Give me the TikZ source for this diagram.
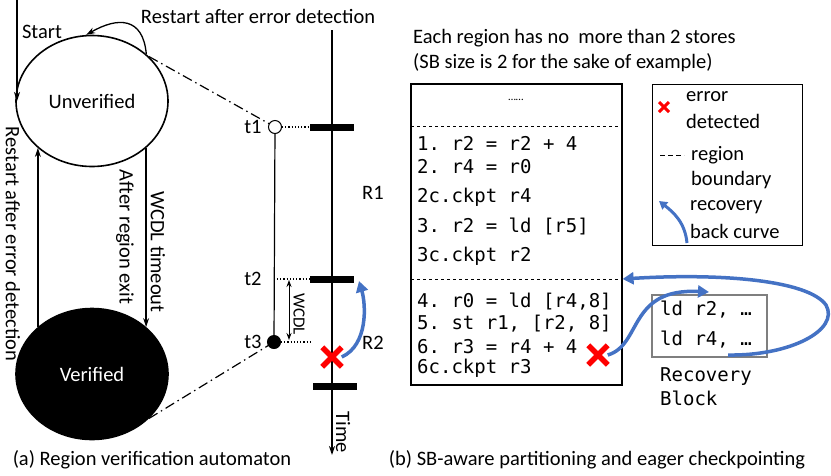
\documentclass[tikz,border=0pt]{standalone}
\usepackage{fontspec}
\setmainfont{Carlito}
\setmonofont{DejaVu Sans Mono}
\usetikzlibrary{positioning,calc,arrows.meta,shapes.geometric,shapes.misc}
\usepackage{xcolor}
\definecolor{curveblue}{HTML}{4472C4}
\definecolor{errred}{HTML}{FF0000}
\definecolor{boxgray}{HTML}{7F7F7F}
\newcommand{\lblsize}{\fontsize{20.5}{24}\selectfont}
\newcommand{\codesize}{\ttfamily\fontsize{19}{23}\selectfont}

\begin{document}
\begin{tikzpicture}[x=1pt,y=-1pt,font=\lblsize,
    state/.style={ellipse,draw,line width=1.6pt,minimum width=152,minimum height=131,inner sep=0},
    vlbl/.style={inner sep=0,rotate=-90},
    codeline/.style={anchor=west,inner sep=0,font=\codesize},
    legtext/.style={anchor=west,inner sep=0},
    bar/.style={fill=black,minimum width=44,minimum height=7,inner sep=0},
    tdot/.style={circle,draw,line width=1pt,minimum size=13,inner sep=0},
    errmark/.style={cross out,draw=errred,line width=5.5pt,minimum size=14,inner sep=0},
    trans/.style={-{Stealth[length=9pt,width=6pt]},line width=1.3pt},
    linkline/.style={line width=1.2pt,dash pattern=on 10pt off 4pt on 1.5pt off 4pt},
    guide/.style={line width=1.2pt,dotted},
    backcurve/.style={curveblue,line width=3.5pt,-{Triangle[length=11pt,width=12pt]}}]
    \useasboundingbox (0,0) rectangle (831,475);

    % Automaton states
    \node[state] (unver) at (92,101) {Unverified};
    \node[state,fill=black,text=white] (ver) at (92,374) {Verified};
    \node[inner sep=0] (startlbl) at (42,32) {Start};
    \node[inner sep=0] (toplbl) at (258,16) {Restart after error detection};
    \node[vlbl] (leftlbl) at (13,244) {Restart after error detection};
    \node[vlbl] (exitlbl) at (125,237) {After region exit};
    \node[vlbl] (wcdllbl) at (158,252) {WCDL timeout};

    % Transitions
    \coordinate (startpt) at (17,0);
    \draw[trans] (startpt) -- (startpt |- unver.west);
    \draw[trans] (unver.north east) to[out=95,in=30,looseness=1.5] (unver.95);
    \draw[trans] (ver.139) -- (unver.221);
    \draw[trans] (unver.319) -- (ver.41);

    % Timeline
    \coordinate (ttop) at (332,30);
    \coordinate (tbot) at (332,455);
    \draw[-{Stealth[length=9pt,width=6pt]},line width=2pt] (ttop) -- (tbot);
    \node[bar] (b1) at (332,127) {};
    \node[bar] (b2) at (332,279) {};
    \node[bar] (b3) at (335,386) {};
    \node[tdot,fill=white] (t1) at (275,127) {};
    \node[tdot,fill=black] (t3) at (274,342) {};
    \coordinate (t2) at (277,279);
    \coordinate (t3end) at (310,342);
    \draw[line width=1.2pt] (t1) -- (t3);
    \draw[guide] (t1) -- (b1);
    \draw[guide] (t2) -- (b2);
    \draw[guide] (t3) -- (t3end);
    \node[inner sep=0] (t1lbl) at (253,127) {t1};
    \node[inner sep=0] (t2lbl) at (253,279) {t2};
    \node[inner sep=0] (t3lbl) at (253,342) {t3};
    \node[inner sep=0] (r1lbl) at (373,193) {R1};
    \node[inner sep=0] (r2lbl) at (373,343) {R2};
    \node[vlbl] (timelbl) at (343,432) {Time};

    % WCDL window
    \coordinate (wtop) at (289,280);
    \coordinate (wbot) at (289,340);
    \draw[{Stealth[length=7pt,width=5pt]}-{Stealth[length=7pt,width=5pt]},line width=1pt] (wtop) -- (wbot);
    \node[vlbl,font=\fontsize{17}{20}\selectfont] (wcdl) at (299,314) {WCDL};

    % Links between states and time points
    \draw[linkline] (unver.38) -- (t1);
    \draw[linkline] (ver.322) -- (t3);

    % Error in R2 and back to t2
    \node[errmark] (err1) at (332,357) {};
    \coordinate (r2tip) at (359,281);
    \draw[backcurve] (err1.east) .. controls (368,345) and (366,305) .. (r2tip);

    \node[inner sep=0] (capa) at (152,460) {(a) Region verification automaton};

    % Code listing
    \node[legtext] (head1) at (413,38) {Each region has no\ \ more than 2 stores};
    \node[legtext] (head2) at (413,63) {(SB size is 2 for the sake of example)};
    \node[draw,line width=1.2pt,minimum width=211,minimum height=301,inner sep=0] (codebox) at (516.5,234.5) {};
    \node[inner sep=0,font=\fontsize{11}{12}\selectfont] (dots) at (516,100) {……};
    \coordinate (bnd1) at (411,126);
    \coordinate (bnd2) at (411,279);
    \draw[dashed,line width=1pt] (bnd1) -- (bnd1 -| codebox.east);
    \draw[dashed,line width=1pt] (bnd2) -- (bnd2 -| codebox.east);
    \node[codeline] (c1) at (417,143) {1. r2 = r2 + 4};
    \node[codeline] (c2) at (417,167) {2. r4 = r0};
    \node[codeline] (c2c) at (417,197) {2c.ckpt r4};
    \node[codeline] (c3) at (417,226) {3. r2 = ld [r5]};
    \node[codeline] (c3c) at (417,256) {3c.ckpt r2};
    \node[codeline] (c4) at (417,302) {4. r0 = ld [r4,8]};
    \node[codeline] (c5) at (417,324) {5. st r1, [r2, 8]};
    \node[codeline] (c6) at (417,347) {6. r3 = r4 + 4};
    \node[codeline] (c6c) at (417,368) {6c.ckpt r3};
    \node[errmark] (err2) at (598,355) {};

    % Legend
    \node[draw,line width=1pt,minimum width=150,minimum height=161,inner sep=0] (legend) at (727,164.5) {};
    \node[cross out,draw=errred,line width=3pt,minimum size=7,inner sep=0] (legerr) at (664,107) {};
    \node[legtext] (lg1) at (686,97) {error};
    \node[legtext] (lg2) at (686,121) {detected};
    \coordinate (legdash) at (660,155);
    \draw[line width=1pt,dash pattern=on 5pt off 3pt] (legdash) -- ++(24,0);
    \node[legtext] (lg3) at (691,155) {region};
    \node[legtext] (lg4) at (691,180) {boundary};
    \coordinate (legcurve) at (687,243);
    \coordinate (legtip) at (659,201);
    \draw[curveblue,line width=3pt,-{Triangle[length=8pt,width=9pt]}] (legcurve) .. controls (685,222) and (673,212) .. (legtip);
    \node[legtext] (lg5) at (690,207) {recovery};
    \node[legtext] (lg6) at (690,231) {back curve};

    % Recovery block
    \node[draw=boxgray,line width=1.2pt,minimum width=115,minimum height=62,inner sep=0] (recblk) at (709.5,326) {};
    \node[codeline] (rb1) at (660,310) {ld r2, …};
    \node[codeline] (rb2) at (660,340) {ld r4, …};
    \node[codeline] (rbl1) at (660,377) {Recovery};
    \node[codeline] (rbl2) at (660,398) {Block};
    \coordinate (rbtip) at (709,292);
    \coordinate (rbout) at (728,355);
    \coordinate (rbturn) at (826,305);
    \draw[backcurve] (err2.east) .. controls (642,345) and (628,288) .. (rbtip);
    \draw[backcurve] (rbout) .. controls (790,356) and (840,330) .. (rbturn) .. controls (808,280) and (720,273) .. (bnd2 -| codebox.east);

    \node[inner sep=0] (capb) at (597,460) {(b) SB-aware partitioning and eager checkpointing};
\end{tikzpicture}
\end{document}
